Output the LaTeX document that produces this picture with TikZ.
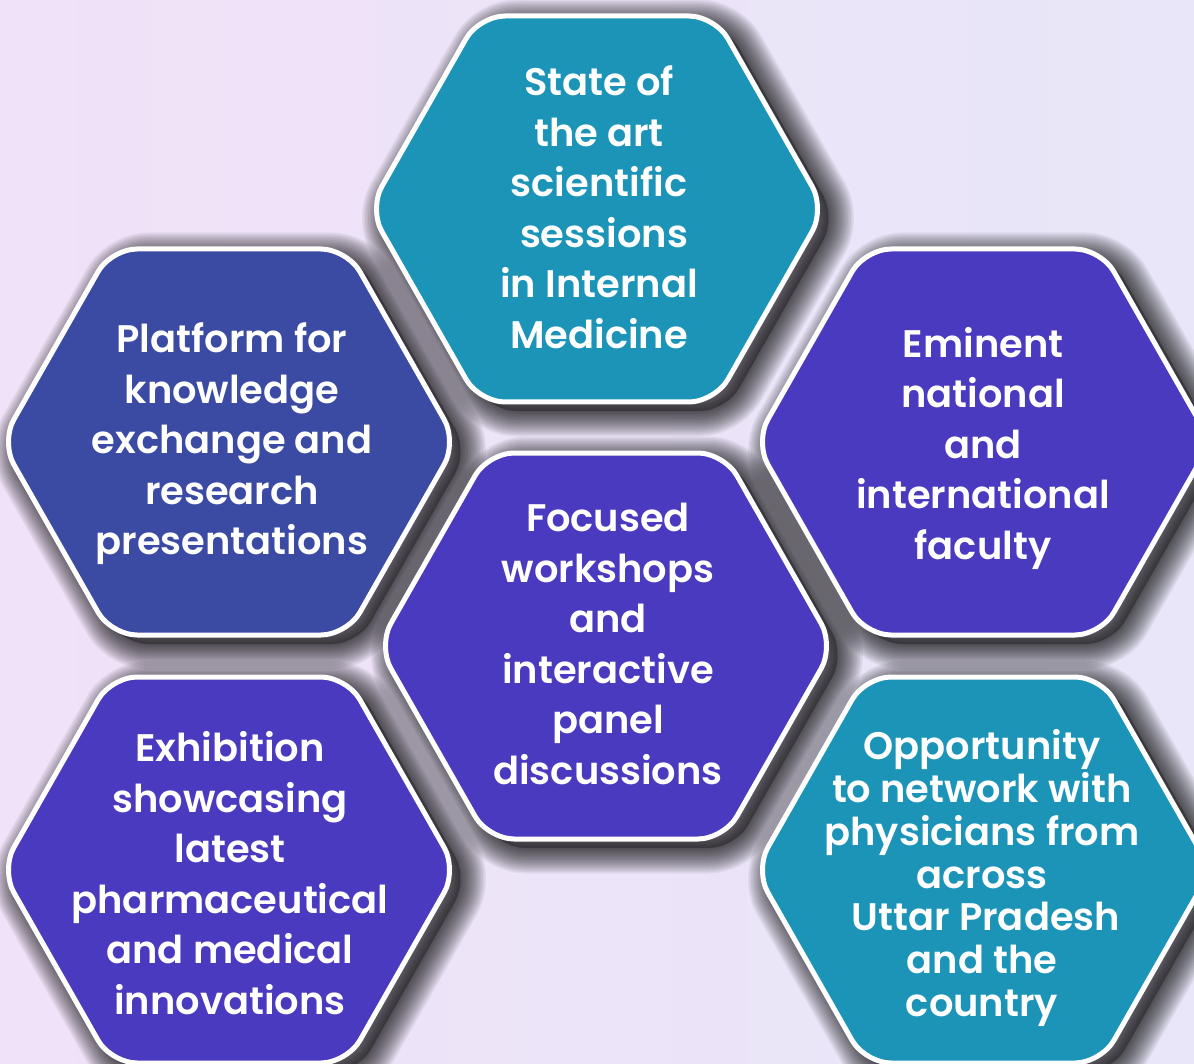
\documentclass[tikz,border=0pt]{standalone}
\usepackage{fontspec}
\newfontfamily\hexfont{Poppins SemiBold}
\definecolor{tealc}{HTML}{1B94B8}
\definecolor{bluec}{HTML}{3B4AA3}
\definecolor{purpc}{HTML}{4A3ABF}
\definecolor{bgpink}{HTML}{F0E2F8}
\definecolor{bgblue}{HTML}{E8E6F8}
\newcommand\hexpath[2]{(#1-228,#2) -- (#1-118,#2-193) -- (#1+118,#2-193) -- (#1+228,#2) -- (#1+118,#2+193) -- (#1-118,#2+193) -- cycle}
\tikzset{
  hexbody/.style={fill=#1, draw=white, line width=5pt, rounded corners=26pt, line join=round},
  hexshade/.style={black, line join=round, rounded corners=26pt},
  hextext/.style={text=white, align=center, inner sep=0pt, font=\hexfont\fontsize{38.4}{50.5}\selectfont},
  hextextsmall/.style={text=white, align=center, inner sep=0pt, font=\hexfont\fontsize{38.4}{42.7}\selectfont},
}
\newcommand\hexshadow[2]{%
  \begin{scope}[shift={(11,9)}]
    \fill[hexshade, opacity=0.3] \hexpath{#1}{#2};
    \foreach \w in {3,6,...,51}{\draw[hexshade, opacity=0.055, line width=\w pt] \hexpath{#1}{#2};}
  \end{scope}}
\begin{document}
\begin{tikzpicture}[x=1pt, y=-1pt]
\useasboundingbox (0,0) rectangle (1194,1064);
\clip (0,0) rectangle (1194,1064);
\shade[left color=bgpink, right color=bgblue] (0,0) rectangle (1194,1064);
% shadows
\hexshadow{597}{209}
\hexshadow{229}{442}
\hexshadow{983}{442}
\hexshadow{606}{646}
\hexshadow{229}{870}
\hexshadow{983}{870}
% hexagons
\path[hexbody=tealc] \hexpath{597}{209};
\path[hexbody=bluec] \hexpath{229}{442};
\path[hexbody=purpc] \hexpath{983}{442};
\path[hexbody=purpc] \hexpath{606}{646};
\path[hexbody=purpc] \hexpath{229}{870};
\path[hexbody=tealc] \hexpath{983}{870};
% texts
\node[hextext] (state) at (599,207) {State of\\the art\\scientific\\\hspace{10pt}sessions\\in Internal\\Medicine};
\node[hextext] (platform) at (232,444) {Platform for\\knowledge\\exchange and\\research\\presentations};
\node[hextext] (eminent) at (983,448) {Eminent\\national\\and\\international\\faculty};
\node[hextext] (focused) at (608,644) {Focused\\workshops\\and\\interactive\\panel\\discussions};
\node[hextext] (exhibition) at (230,873) {Exhibition\\showcasing\\latest\\pharmaceutical\\and medical\\innovations};
\node[hextextsmall] (opportunity) at (982,878) {Opportunity\hspace{8pt}\\to network with\\physicians from\\across\\\hspace{8pt}Uttar Pradesh\\and the\\country};
\end{tikzpicture}
\end{document}
